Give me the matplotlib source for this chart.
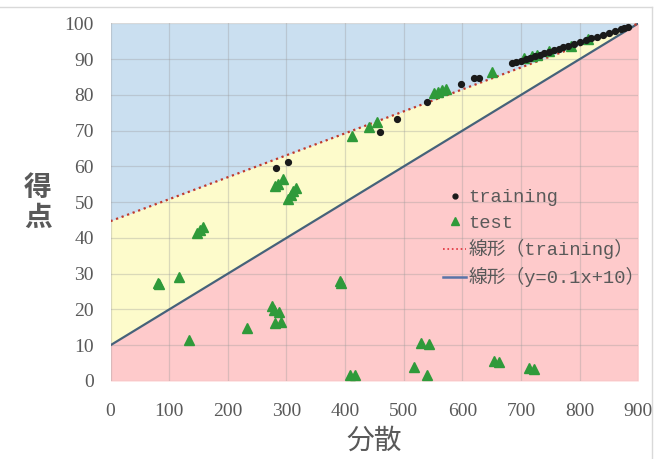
import matplotlib
matplotlib.use('Agg')
import matplotlib.pyplot as plt
import numpy as np
from matplotlib.lines import Line2D

# training (black dots)
train_x = [282, 302, 460, 488.6, 540, 598.5, 620, 628,
           685, 692, 700, 708, 716, 724, 732, 740, 748, 756, 764, 772,
           780, 790, 800, 810, 820, 830, 840, 850, 860, 870, 876, 882]
train_y = [59.5, 61.2, 69.5, 73.4, 78.0, 83.1, 84.6, 84.6,
           88.8, 89.2, 89.6, 90.0, 90.4, 90.8, 91.2, 91.7, 92.1, 92.5, 92.9, 93.3,
           93.7, 94.2, 94.8, 95.3, 95.8, 96.3, 96.8, 97.3, 97.8, 98.4, 98.7, 99.0]

# test (green triangles)
test_x = [80.7, 82.5, 116.6, 148, 152, 157, 281, 285, 294.6, 303, 307, 311, 316,
          411.7, 440, 454.5, 551, 558, 565, 572, 650, 705, 719, 728, 748, 785, 814,
          134.6, 232, 275, 279, 287, 281, 290, 392, 393.5, 408, 417.5, 518, 530,
          542.5, 539.5, 653.7, 662, 713, 722.5]
test_y = [27.5, 27.0, 29.2, 41.5, 42.3, 43.0, 54.5, 55.2, 56.5, 51.0, 52.0, 53.0, 54.0,
          68.6, 71.1, 72.3, 80.4, 80.9, 81.3, 81.6, 86.5, 90.2, 90.9, 91.3, 92.3, 93.7, 95.6,
          11.4, 14.8, 21.0, 19.8, 19.3, 16.3, 16.5, 28.0, 27.5, 1.6, 1.6, 3.9, 10.7,
          10.3, 1.6, 5.6, 5.3, 3.5, 3.3]

# lines: slope, intercept
trend_line = [0.0614, 44.7]   # 線形 (training)
ref_line = [0.1, 10]          # y=0.1x+10

x_ticks = [0, 100, 200, 300, 400, 500, 600, 700, 800, 900]
y_ticks = [0, 10, 20, 30, 40, 50, 60, 70, 80, 90, 100]

grey = '#595959'
tick_font = ['Liberation Serif', 'DejaVu Serif']
leg_font = ['Liberation Mono', 'Noto Sans CJK JP']
cjk_font = ['Noto Sans CJK JP', 'DejaVu Sans']

fig = plt.figure(figsize=(6.54, 4.59), dpi=100)
ax = fig.add_axes([0.169, 0.170, 0.807, 0.779])

xs = np.array([x_ticks[0], x_ticks[-1]], dtype=float)
y_tr = trend_line[0] * xs + trend_line[1]
y_ref = ref_line[0] * xs + ref_line[1]
ax.fill_between(xs, y_tr, 100, color='#cadff0', lw=0, zorder=0)
ax.fill_between(xs, y_ref, y_tr, color='#fdfbcb', lw=0, zorder=0)
ax.fill_between(xs, 0, y_ref, color='#fecacb', lw=0, zorder=0)

for t in x_ticks:
    ax.axvline(t, color='#9a9a9a', alpha=0.35, lw=0.9, zorder=1)
for t in y_ticks:
    ax.axhline(t, color='#9a9a9a', alpha=0.35, lw=0.9, zorder=1)

ax.plot(xs, y_ref, color='#46627a', lw=1.6, zorder=2)
ax.plot(xs, y_tr, color='#c0392b', lw=1.6, ls=':', zorder=3)

ax.plot(test_x, test_y, ls='none', marker='^', ms=6.5, color='#2f9a3a', zorder=4)
ax.plot(train_x, train_y, ls='none', marker='o', ms=4.2, color='#1a1a1a', zorder=5)

ax.set_xlim(0, 900)
ax.set_ylim(0, 100)
ax.set_xticks(x_ticks)
ax.set_yticks(y_ticks)
ax.tick_params(length=0, colors=grey, labelsize=14)
ax.tick_params(axis='x', pad=16)
ax.tick_params(axis='y', pad=12)
for lab in ax.get_xticklabels() + ax.get_yticklabels():
    lab.set_family(tick_font)
for s in ax.spines.values():
    s.set_visible(False)

ax.set_xlabel('分散', family=cjk_font, fontsize=20, color=grey, labelpad=4)
fig.text(38 / 654, 1 - 203 / 459, '得\n点', family=cjk_font, fontsize=20, color=grey,
         ha='center', va='center', linespacing=1.1, fontweight='bold')

handles = [
    Line2D([], [], ls='none', marker='o', ms=3.5, color='#1a1a1a'),
    Line2D([], [], ls='none', marker='^', ms=5.5, color='#2f9a3a'),
    Line2D([], [], color='#e0303a', lw=1.2, ls=':'),
    Line2D([], [], color='#5a74a8', lw=1.8),
]
labels = ['training', 'test', '線形（training）', '線形（y=0.1x+10）']
leg = fig.legend(handles, labels, loc='upper left', bbox_to_anchor=(434 / 654, 1 - 180 / 459),
                 frameon=False, prop={'family': leg_font, 'size': 13.5},
                 handlelength=1.2, handletextpad=0.15, labelspacing=0.42, borderpad=0)
for t in leg.get_texts():
    t.set_color(grey)

# chart border (top and right)
fig.add_artist(Line2D([0, 652 / 654], [1 - 7 / 459, 1 - 7 / 459], color='#d9d9d9', lw=1))
fig.add_artist(Line2D([652 / 654, 652 / 654], [0, 1 - 7 / 459], color='#d9d9d9', lw=1))

fig.savefig('out.png', dpi=100)
plt.close()
